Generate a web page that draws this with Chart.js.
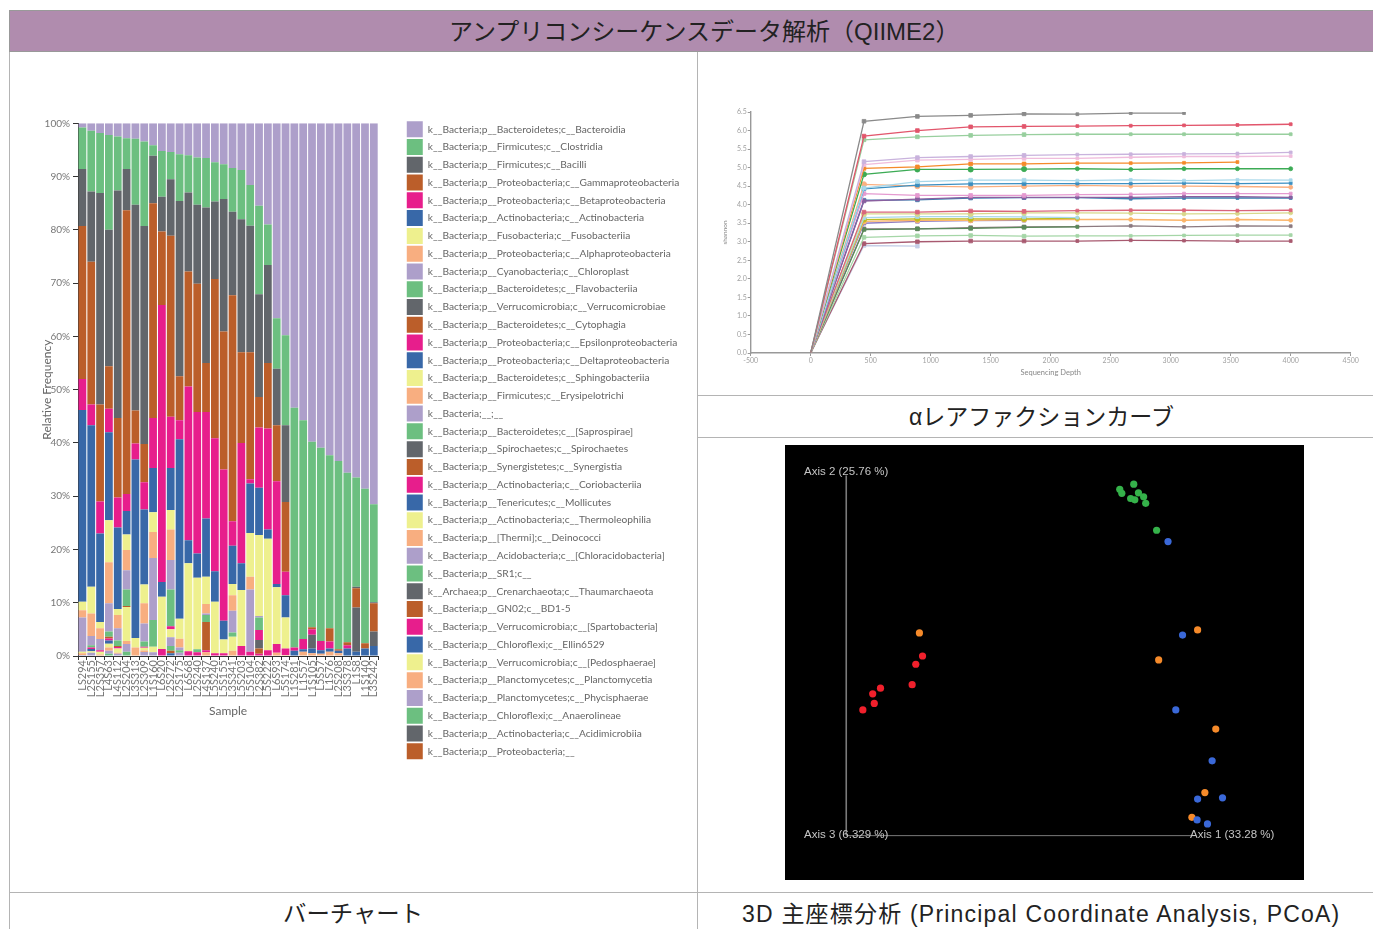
<!DOCTYPE html>
<html lang="ja"><head><meta charset="utf-8">
<script src="https://cdn.jsdelivr.net/npm/chart.js@4"></script>
<style>
html,body{margin:0;padding:0;background:#fff;width:1373px;height:929px;overflow:hidden;font-family:"Liberation Sans","Noto Sans CJK JP",sans-serif;color:#222}
.a{position:absolute}
.ln{position:absolute;background:#b4b4b4}
.t{position:absolute;white-space:nowrap;font-size:24px;line-height:32px;color:#222}
.ax{position:absolute;white-space:nowrap;font:11.5px Arial,"Liberation Sans",sans-serif;color:#c4c4c4;filter:blur(.3px)}
canvas{position:absolute;display:block}
</style></head><body>
<div class="a" style="left:9px;top:10px;width:1364px;height:42px;background:#b08cae;border-top:1px solid #999;box-sizing:border-box;border-bottom:1px solid #999;border-left:1px solid #999"></div>
<div class="t" style="left:449px;top:16px">アンプリコンシーケンスデータ解析（QIIME2）</div>
<div class="ln" style="left:9px;top:52px;width:1px;height:877px"></div>
<div class="ln" style="left:697px;top:52px;width:1px;height:877px"></div>
<div class="ln" style="left:697px;top:395px;width:676px;height:1px"></div>
<div class="ln" style="left:697px;top:437px;width:676px;height:1px"></div>
<div class="ln" style="left:9px;top:892px;width:1364px;height:1px"></div>
<canvas id="bar" style="left:10px;top:53px;filter:blur(.35px)" width="686" height="839"></canvas>
<canvas id="rare" style="left:698px;top:53px;filter:blur(.65px)" width="675" height="342"></canvas>
<canvas id="pcoa" style="left:785px;top:445px;filter:blur(.6px)" width="519" height="435"></canvas>
<div class="ax" style="left:804px;top:465px">Axis 2 (25.76 %)</div>
<div class="ax" style="left:804px;top:828px">Axis 3 (6.329 %)</div>
<div class="ax" style="left:1190px;top:828px">Axis 1 (33.28 %)</div>
<div class="t" style="left:909px;top:401px;font-size:23px">αレアファクションカーブ</div>
<div class="t" style="left:283px;top:898px;font-size:23.4px">バーチャート</div>
<div class="t" style="left:742px;top:898px;font-size:23px;letter-spacing:1.2px">3D 主座標分析 (Principal Coordinate Analysis, PCoA)</div>
<script>
Chart.defaults.animation=false;
/* ---------- bar chart ---------- */
const samples=["LS294","L2S155","L2S357","L4S63","L4S112","L2S204","L3S313","L2S309","L1S160","L6S20","L2S272","L2S175","L6S68","L2S240","L4S137","L5S240","L5S155","L3S341","L5S203","L5S104","L2S382","L5S222","L6S93","L5S174","L1S281","L1S57","L1S105","L5S57","L1S76","L2S208","L3S378","L1S8","L1S140","L3S242"];
const taxa=["k__Bacteria;p__Bacteroidetes;c__Bacteroidia","k__Bacteria;p__Firmicutes;c__Clostridia","k__Bacteria;p__Firmicutes;c__Bacilli","k__Bacteria;p__Proteobacteria;c__Gammaproteobacteria","k__Bacteria;p__Proteobacteria;c__Betaproteobacteria","k__Bacteria;p__Actinobacteria;c__Actinobacteria","k__Bacteria;p__Fusobacteria;c__Fusobacteriia","k__Bacteria;p__Proteobacteria;c__Alphaproteobacteria","k__Bacteria;p__Cyanobacteria;c__Chloroplast","k__Bacteria;p__Bacteroidetes;c__Flavobacteriia","k__Bacteria;p__Verrucomicrobia;c__Verrucomicrobiae","k__Bacteria;p__Bacteroidetes;c__Cytophagia","k__Bacteria;p__Proteobacteria;c__Epsilonproteobacteria","k__Bacteria;p__Proteobacteria;c__Deltaproteobacteria","k__Bacteria;p__Bacteroidetes;c__Sphingobacteriia","k__Bacteria;p__Firmicutes;c__Erysipelotrichi","k__Bacteria;__;__","k__Bacteria;p__Bacteroidetes;c__[Saprospirae]","k__Bacteria;p__Spirochaetes;c__Spirochaetes","k__Bacteria;p__Synergistetes;c__Synergistia","k__Bacteria;p__Actinobacteria;c__Coriobacteriia","k__Bacteria;p__Tenericutes;c__Mollicutes","k__Bacteria;p__Actinobacteria;c__Thermoleophilia","k__Bacteria;p__[Thermi];c__Deinococci","k__Bacteria;p__Acidobacteria;c__[Chloracidobacteria]","k__Bacteria;p__SR1;c__","k__Archaea;p__Crenarchaeota;c__Thaumarchaeota","k__Bacteria;p__GN02;c__BD1-5","k__Bacteria;p__Verrucomicrobia;c__[Spartobacteria]","k__Bacteria;p__Chloroflexi;c__Ellin6529","k__Bacteria;p__Verrucomicrobia;c__[Pedosphaerae]","k__Bacteria;p__Planctomycetes;c__Planctomycetia","k__Bacteria;p__Planctomycetes;c__Phycisphaerae","k__Bacteria;p__Chloroflexi;c__Anaerolineae","k__Bacteria;p__Actinobacteria;c__Acidimicrobiia","k__Bacteria;p__Proteobacteria;__"];
const accent=["#ad9fca","#6cbf80","#62666b","#bb5e2a","#e71e8c","#3868a8","#eef08e","#f8ae80"];
const bacteroidia=[0.8,1.4,1.8,2.2,2.5,2.8,2.9,3.4,4.1,5.2,5.4,5.8,6,6.4,6.5,7.3,7.7,8.4,8.75,11.6,15.5,19,36.6,39.8,53.4,55.75,59.8,60.9,62.3,63.4,65.6,66.5,68.6,71.5];
const clostridia=[7.8,11.4,11.3,17.8,10.1,5.8,12.4,15.9,2,8.6,5.1,8.8,7,8.9,9.3,7.4,6.5,8.2,9.25,7.65,16.6,7.6,9.5,16.9,45,41.05,34.8,36.3,32.5,35.35,31.8,20.5,29,18.4];
const bacilli=[10.7,13.2,39.7,25.6,42.7,7.7,38.6,40.9,8.9,6.5,10.6,32.9,14.8,14.8,29.2,14.55,24.9,15.7,25,23.75,19.3,18.4,10.6,14.4,0,0,0,0,0,0,0,0.3,0,0.2];
const gamma=[28.7,26.8,18.2,8,14.95,53.3,6.2,7.2,40.3,13.8,34,8.25,21.6,24.1,9.2,29.85,25.9,42.4,17,23.8,5.7,12.3,10.5,13.1,0,0,0.4,0,2.5,0.25,0.6,3.6,1,5.3];
const beta=[5.8,3.9,6,4.4,5.65,3.2,3,5.1,9.4,52,9.6,3.55,28.85,26.55,20,25,28.4,4.6,22.6,0.8,11.3,18.95,19.3,4.4,0.6,1.95,1,1.7,1.3,0,0.6,0,0,0];
const actino=[36,30.3,16.6,16.5,15.3,4.4,33.5,14.1,8.3,2.8,7.9,33.7,4.35,4.55,10.9,5.7,3.5,7.2,5,9.3,8.9,1.75,0.6,4.15,1,0.45,0,0.7,0.6,0.5,1.4,0,1.4,0];
const fuso=[1.6,5,1.2,7.9,1.1,2.9,1.8,3.5,3.7,9.8,3.65,3.75,16.5,13.45,5.15,9.7,2.6,2.1,10.5,8.2,15.2,20.9,10.65,5.85,0,0,0,0,0,0,0,0,0,0];
const alpha=[1.35,4.25,2,7.7,2.5,3.8,1.6,3.8,4.9,0,5.75,1.65,0,0,1.75,0,0,2.9,0,2.4,0,0,0,0,0,0.8,0,0.4,0.8,0.5,0,0,0,0];
const chloroplast=[6.45,1.75,2.1,5.3,2.3,3.6,0,3.4,11.65,0,5.5,0.5,0,0,0.3,0,0,4.1,0,11.7,0.25,0,0,0,0,0,0,0,0,0,0,0,0,0];
const flavo=[0,0.4,0,1,1,3.1,0,0.95,5,0,6.9,0.5,0,0.55,1.3,0,0,0.8,0,0,2.35,0,0,0,0,0,0,0,0,0,0,0,0,0];
const verruco=[0,0,0,0,0,0,0,0,0,0,0,0,0,0,0,0,0,0,0,0,0,0,0,0,0,0,2.6,0,0,0,0,8.3,0,2.7];
const cytophagia=[0,0,0,0.3,0.2,0.2,0,0,0,0,0,0,0,0,5.3,0,0,0,0,0,0,0,0,0,0,0,0,0,0,0,0,0,0,0];
const epsilon=[0,0.3,0.3,0.4,0.3,0,0,0.2,0,1.3,0.6,0,0.9,0.7,0.4,0.5,0.5,0,1.9,0.8,1.9,1.1,1.65,1.2,0,0,0,0,0,0,0,0,0,0];
const delta=[0,0.4,0,0.6,0,0,0,0,0,0,0,0,0,0,0,0,0,0,0,0,0,0,0,0,0,0,0.9,0,0,0,0,0.8,0,1.9];
const sphingo=[0.3,0.3,0.5,0.7,0.8,6.4,0,0.5,1.05,0,1.5,0,0,0,0,0,0,2.6,0,0,0,0,0,0,0,0,0,0,0,0,0,0,0,0];
const erysipelo=[0.3,0,0.3,0.6,0.2,0.55,0,0.3,0,0,0,0,0,0,0.7,0,0,1,0,0,0,0,0.6,0.2,0,0,0.5,0,0,0,0,0,0,0];
const unassigned=[0.2,0.6,0,0.6,0.4,1.45,0,0.75,0.7,0,1.6,0.6,0,0,0,0,0,0,0,0,0,0,0,0,0,0,0,0,0,0,0,0,0,0];
const saprospirae=[0,0,0,0.4,0,0.8,0,0,0,0,0.9,0,0,0,0,0,0,0,0,0,0,0,0,0,0,0,0,0,0,0,0,0,0,0];
const spirochaetes=[0,0,0,0,0,0,0,0,0,0,0,0,0,0,0,0,0,0,0,0,1.6,0,0,0,0,0,0,0,0,0,0,0,0,0];
const synergistia=[0,0,0,0,0,0,0,0,0,0,0.5,0,0,0,0,0,0,0,0,0,1,0,0,0,0,0,0,0,0,0,0,0,0,0];
const coriobacteriia=[0,0,0,0,0,0,0,0,0,0,0,0,0,0,0,0,0,0,0,0,0.4,0,0,0,0,0,0,0,0,0,0,0,0,0];
const mollicutes=[0,0,0,0,0,0,0,0,0,0,0.5,0,0,0,0,0,0,0,0,0,0,0,0,0,0,0,0,0,0,0,0,0,0,0];
/* the remaining classes are too thin to read in the picture */
const seriesValues=[bacteroidia,clostridia,bacilli,gamma,beta,actino,fuso,alpha,chloroplast,flavo,verruco,cytophagia,epsilon,delta,sphingo,erysipelo,unassigned,saprospirae,spirochaetes,synergistia,coriobacteriia,mollicutes];
const pctTicks=[0,10,20,30,40,50,60,70,80,90,100];

const barDatasets=taxa.map((name,i)=>({label:name,data:seriesValues[i]||[],backgroundColor:accent[i%8],borderWidth:0,barPercentage:.88,categoryPercentage:1,stack:"s"})).reverse();
const legendFontSize=10.2;
const mc=document.createElement("canvas").getContext("2d");mc.font=legendFontSize+"px Lato";
const legendW=16+legendFontSize/2+Math.max(...taxa.map(t=>mc.measureText(t).width))+10;
const moveLegend={id:"moveLegend",afterLayout(c){const l=c.legend;const w=l.width,h=l.height;l.left=395;l.right=395+w;l.top=66.5;l.bottom=66.5+h;l.adjustHitBoxes();}};
new Chart(document.getElementById("bar"),{type:"bar",data:{labels:samples,datasets:barDatasets},plugins:[moveLegend],options:{
 responsive:false,
 layout:{autoPadding:false,padding:{left:20,right:316-legendW,top:70.3,bottom:0}},
 plugins:{tooltip:{enabled:false},legend:{position:"right",align:"start",maxWidth:320,reverse:true,labels:{boxWidth:16,boxHeight:16,padding:1.77,color:"#666",font:{family:"Lato",size:legendFontSize}}}},
 scales:{
  x:{stacked:true,afterFit(s){s.height=236;},grid:{display:true,drawOnChartArea:false,tickLength:4,color:"#333"},border:{color:"#333"},ticks:{autoSkip:false,maxRotation:90,minRotation:90,padding:0,color:"#777",font:{family:"Lato",size:11}},title:{display:true,text:"Sample",color:"#666",padding:{top:6,bottom:174},font:{family:"Lato",size:12}}},
  y:{stacked:true,min:0,max:100,afterFit(s){s.width=48;},afterBuildTicks(s){s.ticks=pctTicks.map(v=>({value:v}));},grid:{display:true,drawOnChartArea:false,tickLength:5,color:"#333"},border:{color:"#333"},ticks:{padding:3,color:"#777",font:{family:"Lato",size:10},callback:v=>v+"%"},title:{display:true,text:"Relative Frequency",color:"#666",padding:{top:10,bottom:0},font:{family:"Lato",size:12}}}
 }}});

/* ---------- alpha rarefaction ---------- */
const depths=[0,444,889,1333,1778,2222,2667,3111,3556,4000];
const shGrey=[0,6.25,6.38,6.41,6.45,6.44,6.47,6.47,null,null];
const shRed=[0,5.85,6.0,6.1,6.11,6.12,6.13,6.14,6.15,6.17];
const shLime=[0,5.75,5.83,5.87,5.89,5.9,5.9,5.9,5.9,5.9];
const shLilac=[0,5.16,5.27,5.3,5.33,5.35,5.36,5.37,5.38,5.41];
const shPink=[0,5.08,5.2,5.22,5.25,5.25,5.28,5.3,5.3,5.31];
const shOrange=[0,4.98,5.02,5.1,5.1,5.12,5.12,5.13,5.15,null];
const shGreen=[0,4.82,4.95,4.95,4.96,4.97,4.95,4.97,4.97,4.97];
const shSky=[0,4.45,4.62,4.66,4.66,4.65,4.67,4.65,4.67,4.66];
const shBlue=[0,4.43,4.53,4.56,4.57,4.57,4.57,4.58,4.57,4.58];
const shPeach=[0,4.55,4.5,4.48,4.5,4.52,4.5,4.5,4.49,4.47];
const shRose=[0,4.3,4.25,4.25,4.25,4.27,4.28,4.3,4.3,4.3];
const shViolet=[0,4.1,4.15,4.2,4.2,4.2,4.2,4.22,4.22,4.2];
const shSteel=[0,4.12,4.13,4.18,4.19,4.19,4.16,4.18,4.18,4.18];
const shCrimson=[0,3.8,3.8,3.83,3.82,3.84,3.85,3.85,3.84,3.85];
const shKhaki=[0,3.75,3.75,3.75,3.78,3.78,3.77,3.75,3.76,3.78];
const shIce=[0,3.65,3.68,3.68,3.67,3.65,null,null,null,null];
const shOlive=[0,3.6,3.62,3.62,3.62,3.63,null,null,null,null];
const shApricot=[0,3.55,3.58,3.58,3.6,3.6,3.6,3.58,3.6,3.58];
const shPlum=[0,3.5,3.55,3.57,3.58,null,null,null,null,null];
const shForest=[0,3.33,3.35,3.36,3.39,3.4,null,null,null,null];
const shTaupe=[0,3.35,3.35,3.38,3.4,3.41,3.43,3.4,3.43,3.42];
const shMint=[0,3.12,3.16,3.17,3.15,3.16,3.16,3.17,3.18,3.18];
const shMaroon=[0,2.95,3.0,3.02,3.02,3.02,3.04,3.03,3.02,3.02];
const shPale=[0,2.9,2.88,null,null,null,null,null,null,null];
const rareLines=[[shGrey,"#8a8a8a"],[shRed,"#e2566c"],[shLime,"#98cf9e"],[shLilac,"#c9b3dd"],[shPink,"#f0bcdc"],[shOrange,"#f58a2a"],[shGreen,"#3cab55"],[shSky,"#a8d8ea"],[shBlue,"#3b8fc2"],[shPeach,"#fbb080"],[shRose,"#e59ad0"],[shViolet,"#8a5f9f"],[shSteel,"#3a80b0"],[shCrimson,"#d9657b"],[shKhaki,"#d8d88c"],[shIce,"#a8d8ea"],[shOlive,"#bcbd22"],[shApricot,"#fbb56a"],[shPlum,"#8f7cc0"],[shForest,"#5a8a5a"],[shTaupe,"#8c7a80"],[shMint,"#a5d6a7"],[shMaroon,"#a85a70"],[shPale,"#c5cfe8"]];
const markerStyles=["rect","rect","rect","rect","rect","rect","circle","rect","rect","circle","rect","rect","rect","rect","circle","rect","circle","circle","rect","rect","rect","rect","rect","rect"];
new Chart(document.getElementById("rare"),{type:"line",data:{datasets:rareLines.map(([vals,col],i)=>({label:"s"+i,data:vals.map((y,k)=>({x:depths[k],y})),borderColor:col,backgroundColor:col,borderWidth:1.3,pointStyle:markerStyles[i],pointRadius:ctx=>ctx.dataIndex===0?0:(ctx.dataIndex<5?2.6:2),pointBorderColor:col,pointBorderWidth:.8,spanGaps:false,tension:0}))},options:{
 responsive:false,
 layout:{autoPadding:false,padding:{left:22.7,right:22.3,top:59,bottom:18}},
 plugins:{legend:{display:false},tooltip:{enabled:false}},
 scales:{
  x:{type:"linear",min:-500,max:4500,afterFit(s){s.height=24;},afterBuildTicks(s){s.ticks=[-500,0,500,1000,1500,2000,2500,3000,3500,4000,4500].map(v=>({value:v}));},grid:{drawOnChartArea:false,tickLength:3,color:"#999"},border:{color:"#999",width:1.4},ticks:{padding:1,maxRotation:0,color:"#a0a0a0",font:{family:"Lato",size:7},callback:v=>String(v)},title:{display:true,text:"Sequencing Depth",color:"#888",padding:{top:0,bottom:0},font:{family:"Lato",size:7.5}}},
  y:{min:0,max:6.5,afterFit(s){s.width=30;},afterBuildTicks(s){s.ticks=[0,.5,1,1.5,2,2.5,3,3.5,4,4.5,5,5.5,6,6.5].map(v=>({value:v}));},grid:{drawOnChartArea:false,tickLength:3,color:"#999"},border:{color:"#999",width:1.4},ticks:{padding:1,color:"#a0a0a0",font:{family:"Lato",size:7},callback:v=>v.toFixed(1)},title:{display:true,text:"shannon",color:"#888",padding:{top:0,bottom:0},font:{family:"Lato",size:6.5}}}
 }}});

/* ---------- PCoA ---------- */
const redAxis1=[-0.235,-0.248,-0.255,-0.316,-0.331,-0.328,-0.350];
const redAxis2=[0.015,-0.004,-0.051,-0.059,-0.072,-0.094,-0.109];
const orangeAxis1=[-0.241,0.295,0.220,0.330,0.309,0.284];
const orangeAxis2=[0.068,0.075,0.006,-0.153,-0.299,-0.356];
const greenAxis1=[0.172,0.145,0.149,0.181,0.191,0.166,0.174,0.195,0.216];
const greenAxis2=[0.410,0.398,0.389,0.390,0.381,0.377,0.374,0.366,0.304];
const blueAxis1=[0.238,0.266,0.253,0.323,0.295,0.343,0.294,0.314];
const blueAxis2=[0.278,0.063,-0.109,-0.226,-0.314,-0.311,-0.362,-0.371];
const zipPts=(a,b)=>a.map((x,i)=>({x,y:b[i]}));
const pts=(a,b,c)=>({type:"scatter",data:zipPts(a,b),backgroundColor:c,borderWidth:0,pointRadius:3.6,showLine:false});
const axisRule=(a,b,w)=>({type:"scatter",data:zipPts(a,b),showLine:true,borderColor:"#7a7a7a",borderWidth:w,pointRadius:0});
const bgBlack={id:"bgBlack",beforeDraw(c){c.ctx.save();c.ctx.fillStyle="#000";c.ctx.fillRect(0,0,c.width,c.height);c.ctx.restore();}};
new Chart(document.getElementById("pcoa"),{type:"scatter",plugins:[bgBlack],data:{datasets:[
 axisRule([-0.382,-0.382],[0.43,-0.397],1.6),
 axisRule([-0.382,0.29],[-0.398,-0.398],1),
 pts(greenAxis1,greenAxis2,"#35b24a"),pts(blueAxis1,blueAxis2,"#3a68d8"),pts(orangeAxis1,orangeAxis2,"#f58a2a"),pts(redAxis1,redAxis2,"#f0202c")]},
 options:{responsive:false,layout:{autoPadding:false,padding:0},plugins:{legend:{display:false},tooltip:{enabled:false}},
 scales:{x:{display:false,min:-0.5,max:0.5},y:{display:false,min:-0.5,max:0.5}}}});
</script></body></html>
